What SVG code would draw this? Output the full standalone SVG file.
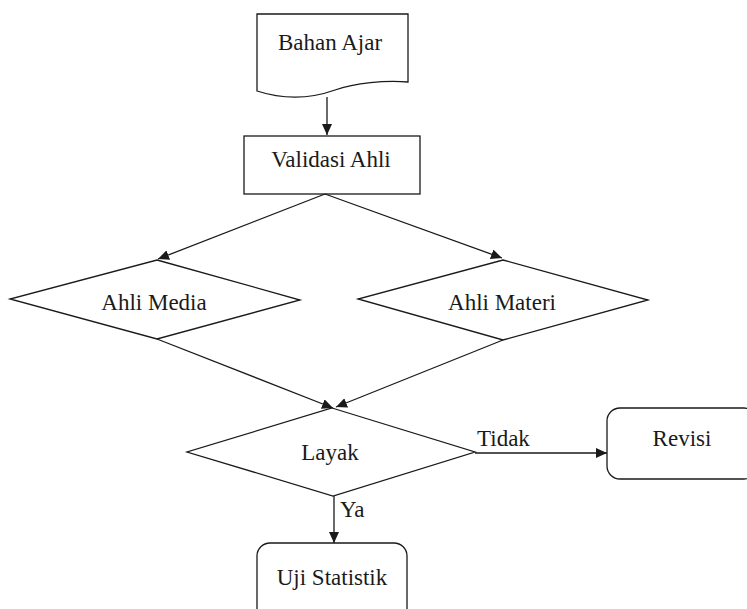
<svg xmlns="http://www.w3.org/2000/svg" width="747" height="609" viewBox="0 0 747 609">
<style>
.s{fill:#fff;stroke:#1a1a1a;stroke-width:1.3}
.c{fill:none;stroke:#1a1a1a;stroke-width:1.3}
.t{font-family:'Liberation Serif',Tinos,'Times New Roman',Times,'DejaVu Serif','Noto Serif',serif;font-size:23px;fill:#1a1a1a}
.m{text-anchor:middle}
</style>
<defs>
<marker id="ah" markerUnits="userSpaceOnUse" markerWidth="12" markerHeight="10" refX="11" refY="5" orient="auto">
<path d="M0,0 L11,5 L0,10 Z" fill="#1a1a1a"/>
</marker>
</defs>
<rect width="747" height="609" fill="#fff"/>
<g id="bahan-ajar">
<path class="s" d="M257,14 H408 V82 C385,80 355,83 335,90 C310,99 285,100 257,91 Z"/>
<text class="t m" x="330" y="50">Bahan Ajar</text>
</g>
<g id="validasi-ahli">
<rect class="s" x="244" y="136" width="176" height="58"/>
<text class="t m" x="331" y="167">Validasi Ahli</text>
</g>
<g id="ahli-media">
<path class="s" d="M157,260 L300,300 L157,339 L10,299 Z"/>
<text class="t m" x="154" y="310">Ahli Media</text>
</g>
<g id="ahli-materi">
<path class="s" d="M503,260 L648,300 L503,340 L358,299 Z"/>
<text class="t m" x="502" y="310">Ahli Materi</text>
</g>
<g id="layak">
<path class="s" d="M332,408 L475,452 L333,496 L187,452 Z"/>
<text class="t m" x="330" y="460">Layak</text>
</g>
<g id="revisi">
<rect class="s" x="607" y="408" width="150" height="71" rx="13"/>
<text class="t m" x="682" y="446">Revisi</text>
</g>
<g id="uji-statistik">
<rect class="s" x="257" y="543" width="150" height="80" rx="13"/>
<text class="t m" x="332" y="585">Uji Statistik</text>
</g>
<g id="connectors">
<line class="c" x1="327" y1="97" x2="327" y2="135" marker-end="url(#ah)"/>
<line class="c" x1="325" y1="194" x2="158" y2="259" marker-end="url(#ah)"/>
<line class="c" x1="325" y1="194" x2="502" y2="258" marker-end="url(#ah)"/>
<line class="c" x1="157" y1="339" x2="333" y2="408" marker-end="url(#ah)"/>
<line class="c" x1="503" y1="340" x2="336" y2="407" marker-end="url(#ah)"/>
<line class="c" x1="475" y1="453" x2="607" y2="453" marker-end="url(#ah)"/>
<line class="c" x1="334" y1="496" x2="334" y2="543" marker-end="url(#ah)"/>
<text class="t" x="477" y="446">Tidak</text>
<text class="t" x="340" y="517">Ya</text>
</g>
</svg>
